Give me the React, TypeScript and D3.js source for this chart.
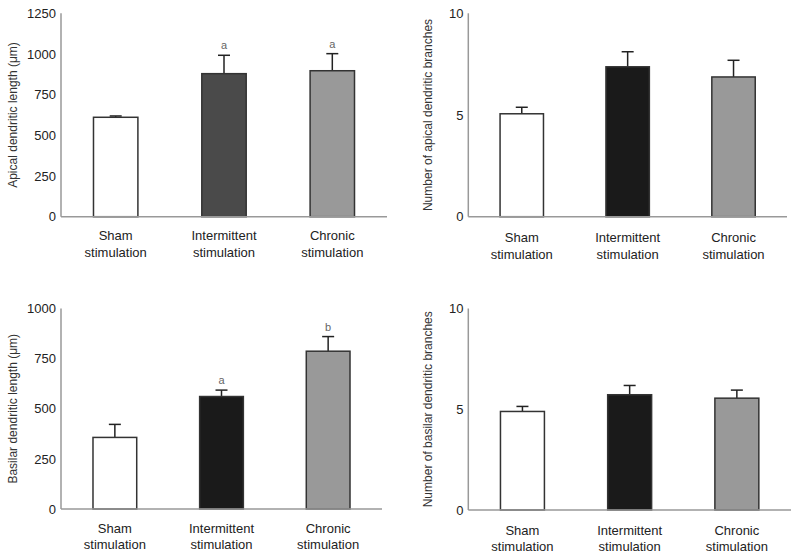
import React from "react";
import * as d3 from "d3";

const categories = [
  ["Sham", "stimulation"],
  ["Intermittent", "stimulation"],
  ["Chronic", "stimulation"],
];

const apicalLength = [611, 879, 897];
const apicalLengthErr = [8, 113, 105];
const apicalLengthLetters = ["", "a", "a"];

const apicalBranches = [5.06, 7.37, 6.87];
const apicalBranchesErr = [0.32, 0.74, 0.82];

const basalLength = [357, 561, 787];
const basalLengthErr = [65, 32, 73];
const basalLengthLetters = ["", "a", "b"];

const basalBranches = [4.89, 5.72, 5.55];
const basalBranchesErr = [0.25, 0.46, 0.4];

const lengthTicksApical = [0, 250, 500, 750, 1000, 1250];
const lengthTicksBasal = [0, 250, 500, 750, 1000];
const branchTicks = [0, 5, 10];

type Panel = {
  values: number[];
  errs: number[];
  letters: string[];
  ticks: number[];
  max: number;
  label: string;
  colors: string[];
  left: number;
  right: number;
  top: number;
  bottom: number;
  labelX: number;
  tickRight: number;
  xRows: [number, number];
};

const panels: Panel[] = [
  {
    values: apicalLength, errs: apicalLengthErr, letters: apicalLengthLetters,
    ticks: lengthTicksApical, max: 1250, label: "Apical dendritic length (μm)",
    colors: ["#ffffff", "#4a4a4a", "#999999"],
    left: 61, right: 387, top: 13.3, bottom: 216.7, labelX: 13, tickRight: 56,
    xRows: [239.8, 256.5],
  },
  {
    values: apicalBranches, errs: apicalBranchesErr, letters: ["", "", ""],
    ticks: branchTicks, max: 10, label: "Number of apical dendritic branches",
    colors: ["#ffffff", "#1a1a1a", "#999999"],
    left: 468.3, right: 787, top: 13.3, bottom: 216.7, labelX: 428, tickRight: 463.5,
    xRows: [242, 258.6],
  },
  {
    values: basalLength, errs: basalLengthErr, letters: basalLengthLetters,
    ticks: lengthTicksBasal, max: 1000, label: "Basilar dendritic length (μm)",
    colors: ["#ffffff", "#1a1a1a", "#999999"],
    left: 61, right: 382, top: 308.5, bottom: 509, labelX: 13, tickRight: 56,
    xRows: [532.6, 549.4],
  },
  {
    values: basalBranches, errs: basalBranchesErr, letters: ["", "", ""],
    ticks: branchTicks, max: 10, label: "Number of basilar dendritic branches",
    colors: ["#ffffff", "#1a1a1a", "#999999"],
    left: 468.3, right: 791, top: 308.5, bottom: 510, labelX: 428, tickRight: 463.5,
    xRows: [534.6, 551.3],
  },
];

const FONT = "'Liberation Sans', Arial, Helvetica, sans-serif";

function ChartPanel({ p }: { p: Panel }) {
  const names = categories.map((c) => c.join(" "));
  const x = d3
    .scaleBand<string>()
    .domain(names)
    .range([p.left, p.right])
    .paddingInner(0.59)
    .paddingOuter(0.3);
  const y = d3.scaleLinear().domain([0, p.max]).range([p.bottom, p.top]);
  const bw = x.bandwidth();
  const cap = 12;
  return (
    <g>
      {/* y axis label */}
      <text
        transform={`translate(${p.labelX},${(p.top + p.bottom) / 2}) rotate(-90)`}
        textAnchor="middle"
        dominantBaseline="central"
        fontSize={12}
        fill="#333"
        fontFamily={FONT}
      >
        {p.label}
      </text>
      {/* tick labels */}
      {p.ticks.map((t) => (
        <text
          key={t}
          x={p.tickRight}
          y={y(t)}
          dy="0.36em"
          textAnchor="end"
          fontSize={13}
          fill="#222"
          fontFamily={FONT}
        >
          {t}
        </text>
      ))}
      {/* bars */}
      {p.values.map((v, i) => {
        const cx = (x(names[i]) as number) + bw / 2;
        const yTop = y(v);
        const yErr = y(v + p.errs[i]);
        return (
          <g key={i}>
            <line x1={cx} x2={cx} y1={yTop} y2={yErr} stroke="#222" strokeWidth={1.5} />
            <line x1={cx - cap / 2} x2={cx + cap / 2} y1={yErr} y2={yErr} stroke="#222" strokeWidth={1.5} />
            <rect
              x={x(names[i])}
              y={yTop}
              width={bw}
              height={p.bottom - yTop}
              fill={p.colors[i]}
              stroke="#333"
              strokeWidth={1.5}
            />
            {p.letters[i] && (
              <text
                x={cx}
                y={yErr - 6}
                textAnchor="middle"
                fontSize={11}
                fill="#666"
                fontFamily={FONT}
              >
                {p.letters[i]}
              </text>
            )}
          </g>
        );
      })}
      {/* axes */}
      <line x1={p.left} x2={p.left} y1={p.top} y2={p.bottom} stroke="#999" strokeWidth={1.5} />
      <line x1={p.left} x2={p.right} y1={p.bottom} y2={p.bottom} stroke="#999" strokeWidth={1.5} />
      {/* category labels */}
      {categories.map((c, i) => {
        const cx = (x(names[i]) as number) + bw / 2;
        return (
          <g key={i}>
            {c.map((line, j) => (
              <text
                key={j}
                x={cx}
                y={p.xRows[j]}
                textAnchor="middle"
                fontSize={13}
                fill="#222"
                fontFamily={FONT}
              >
                {line}
              </text>
            ))}
          </g>
        );
      })}
    </g>
  );
}

export default function App() {
  return (
    <svg
      width={800}
      height={558}
      style={{ position: "absolute", left: 0, top: 0, background: "#fff" }}
    >
      <rect x={0} y={0} width={800} height={558} fill="#fff" />
      {panels.map((p, i) => (
        <ChartPanel key={i} p={p} />
      ))}
    </svg>
  );
}
